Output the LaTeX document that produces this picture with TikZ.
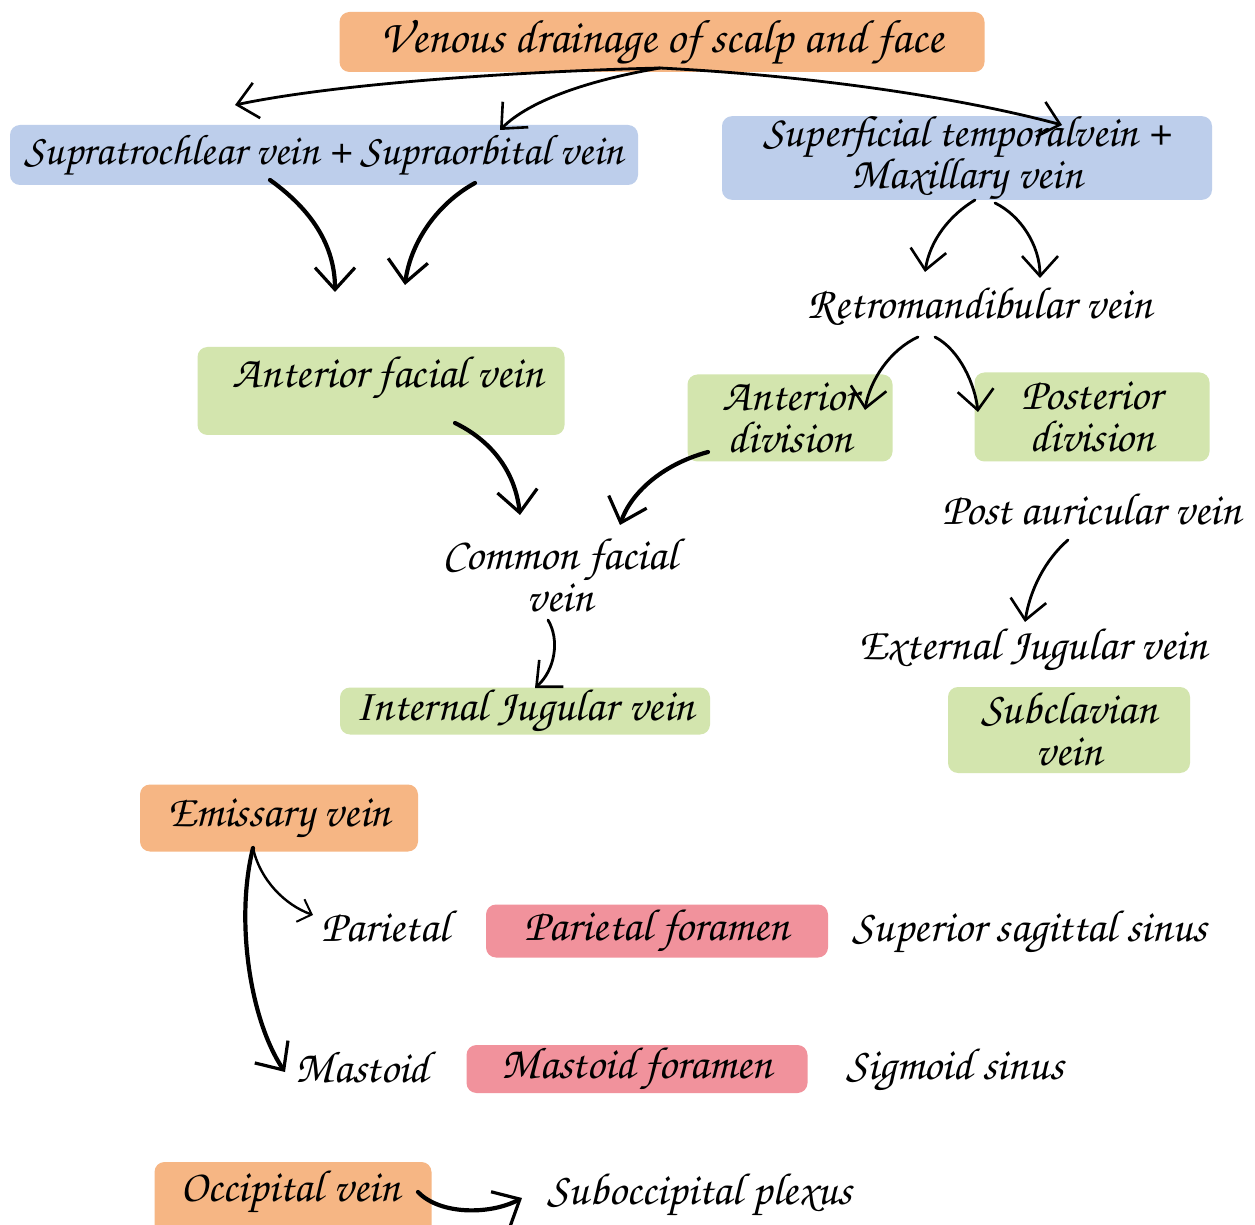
\documentclass[tikz,border=0pt]{standalone}
\usepackage{fontspec}
\setmainfont{TeX Gyre Chorus}
\usetikzlibrary{arrows.meta,calc}
\definecolor{orng}{RGB}{246,182,132}
\definecolor{blu}{RGB}{189,206,235}
\definecolor{grn}{RGB}{211,229,174}
\definecolor{pnk}{RGB}{241,146,156}
\begin{document}
\begin{tikzpicture}[x=0.5pt,y=-0.5pt,
  txt/.style={font=\fontsize{22.5}{21}\selectfont, align=center, inner sep=0pt},
  box/.style={txt, rounded corners=5pt},
  arr/.style={line width=1.4pt, line cap=round, -{Straight Barb[length=10pt,width=18pt,line width=1.3pt]}},
  thick arr/.style={line width=2.1pt, line cap=round, -{Straight Barb[length=11pt,width=20pt,line width=1.6pt]}},
  small arr/.style={line width=1.2pt, line cap=round, -{Straight Barb[length=6pt,width=12pt,line width=1pt]}},
]
\useasboundingbox (0,0) rectangle (1255,1225);
\fill[white] (0,0) rectangle (1255,1225);

% boxed nodes
\node[box, fill=orng, minimum width=322.5pt, minimum height=30pt, font=\fontsize{23.5}{21}\selectfont] (title) at (662,42) {Venous drainage of scalp and face};
\node[box, fill=blu, minimum width=314pt, minimum height=30pt, font=\fontsize{21.5}{21}\selectfont] (sup) at (324,155) {Supratrochlear vein + Supraorbital vein};
\node[box, fill=blu, minimum width=245pt, minimum height=36.5pt, font=\fontsize{22}{17}\selectfont] (sft) at (967,158) {Superficial temporalvein +\\Maxillary vein};
\node[box, fill=grn, minimum width=183.5pt, minimum height=44pt] (afvbox) at (381,391) {};
\node[txt] (afv) at (388,378) {Anterior facial vein};
\node[box, fill=grn, minimum width=102.5pt, minimum height=43.5pt] (adv) at (790,418) {Anterior\\division};
\node[box, fill=grn, minimum width=117.5pt, minimum height=44.5pt] (pdv) at (1092,417) {Posterior\\division};
\node[box, fill=grn, minimum width=185pt, minimum height=23.5pt] (ijv) at (525,711) {Internal Jugular vein};
\node[box, fill=grn, minimum width=121pt, minimum height=43pt] (scv) at (1069,730) {Subclavian\\vein};
\node[box, fill=orng, minimum width=139pt, minimum height=33.5pt] (emv) at (279,818) {Emissary vein};
\node[box, fill=pnk, minimum width=171pt, minimum height=26.5pt] (pfm) at (657,931) {Parietal foramen};
\node[box, fill=pnk, minimum width=170.5pt, minimum height=24pt] (mfm) at (637,1069) {Mastoid foramen};
\node[box, fill=orng, minimum width=138.5pt, minimum height=39pt] (ocv) at (293,1201) {};
\node[txt] (ocvt) at (290,1192) {Occipital vein};

% plain texts
\node[txt] (retro) at (980,307) {Retromandibular vein};
\node[txt] (pav) at (1092,510) {Post auricular vein};
\node[txt] (cfv) at (560,576) {Common facial\\vein};
\node[txt] (ejv) at (1033,650) {External Jugular vein};
\node[txt] (par) at (385,927) {Parietal};
\node[txt] (mas) at (362,1068) {Mastoid};
\node[txt] (sss) at (1030,932) {Superior sagittal sinus};
\node[txt] (sig) at (955,1070) {Sigmoid sinus};
\node[txt] (sop) at (700,1195) {Suboccipital plexus};

% connector end points
\coordinate (t0) at (660,68);
\coordinate (e1) at (235,105);
\coordinate (e2) at (500,130);
\coordinate (e3) at (1062,125);
\coordinate (s4) at (270,180);
\coordinate (e4) at (335,292);
\coordinate (s5) at (475,183);
\coordinate (e5) at (405,285);
\coordinate (s6) at (975,200);
\coordinate (e6) at (925,272);
\coordinate (s7) at (995,203);
\coordinate (e7) at (1040,278);
\coordinate (s8) at (918,337);
\coordinate (e8) at (865,410);
\coordinate (s9) at (935,337);
\coordinate (e9) at (978,412);
\coordinate (s10) at (455,423);
\coordinate (e10) at (520,515);
\coordinate (s11) at (708,452);
\coordinate (e11) at (620,525);
\coordinate (s12) at (548,620);
\coordinate (e12) at (535,688);
\coordinate (s13) at (1068,540);
\coordinate (e13) at (1025,622);
\coordinate (s14) at (253,848);
\coordinate (e14) at (313,915);
\coordinate (e15) at (285,1072);
\coordinate (s16) at (418,1192);
\coordinate (e16) at (522,1198);

% connectors
\draw[arr] (t0) .. controls (500,72) and (330,85) .. (e1);
\draw[arr] (t0) .. controls (590,80) and (530,100) .. (e2);
\draw[arr] (t0) .. controls (800,75) and (950,95) .. (e3);
\draw[thick arr] (s4) .. controls (305,205) and (335,240) .. (e4);
\draw[thick arr] (s5) .. controls (435,205) and (410,245) .. (e5);
\draw[arr] (s6) .. controls (950,215) and (930,240) .. (e6);
\draw[arr] (s7) .. controls (1020,215) and (1040,245) .. (e7);
\draw[arr] (s8) .. controls (890,350) and (870,380) .. (e8);
\draw[arr] (s9) .. controls (960,350) and (975,385) .. (e9);
\draw[thick arr] (s10) .. controls (490,440) and (515,470) .. (e10);
\draw[thick arr] (s11) .. controls (660,465) and (630,495) .. (e11);
\draw[arr] (s12) .. controls (560,640) and (555,670) .. (e12);
\draw[arr] (s13) .. controls (1045,560) and (1030,590) .. (e13);
\draw[small arr] (s14) .. controls (260,880) and (285,905) .. (e14);
\draw[thick arr] (s14) .. controls (235,920) and (250,1020) .. (e15);
\draw[thick arr] (s16) .. controls (440,1215) and (490,1215) .. (e16);
\end{tikzpicture}
\end{document}
